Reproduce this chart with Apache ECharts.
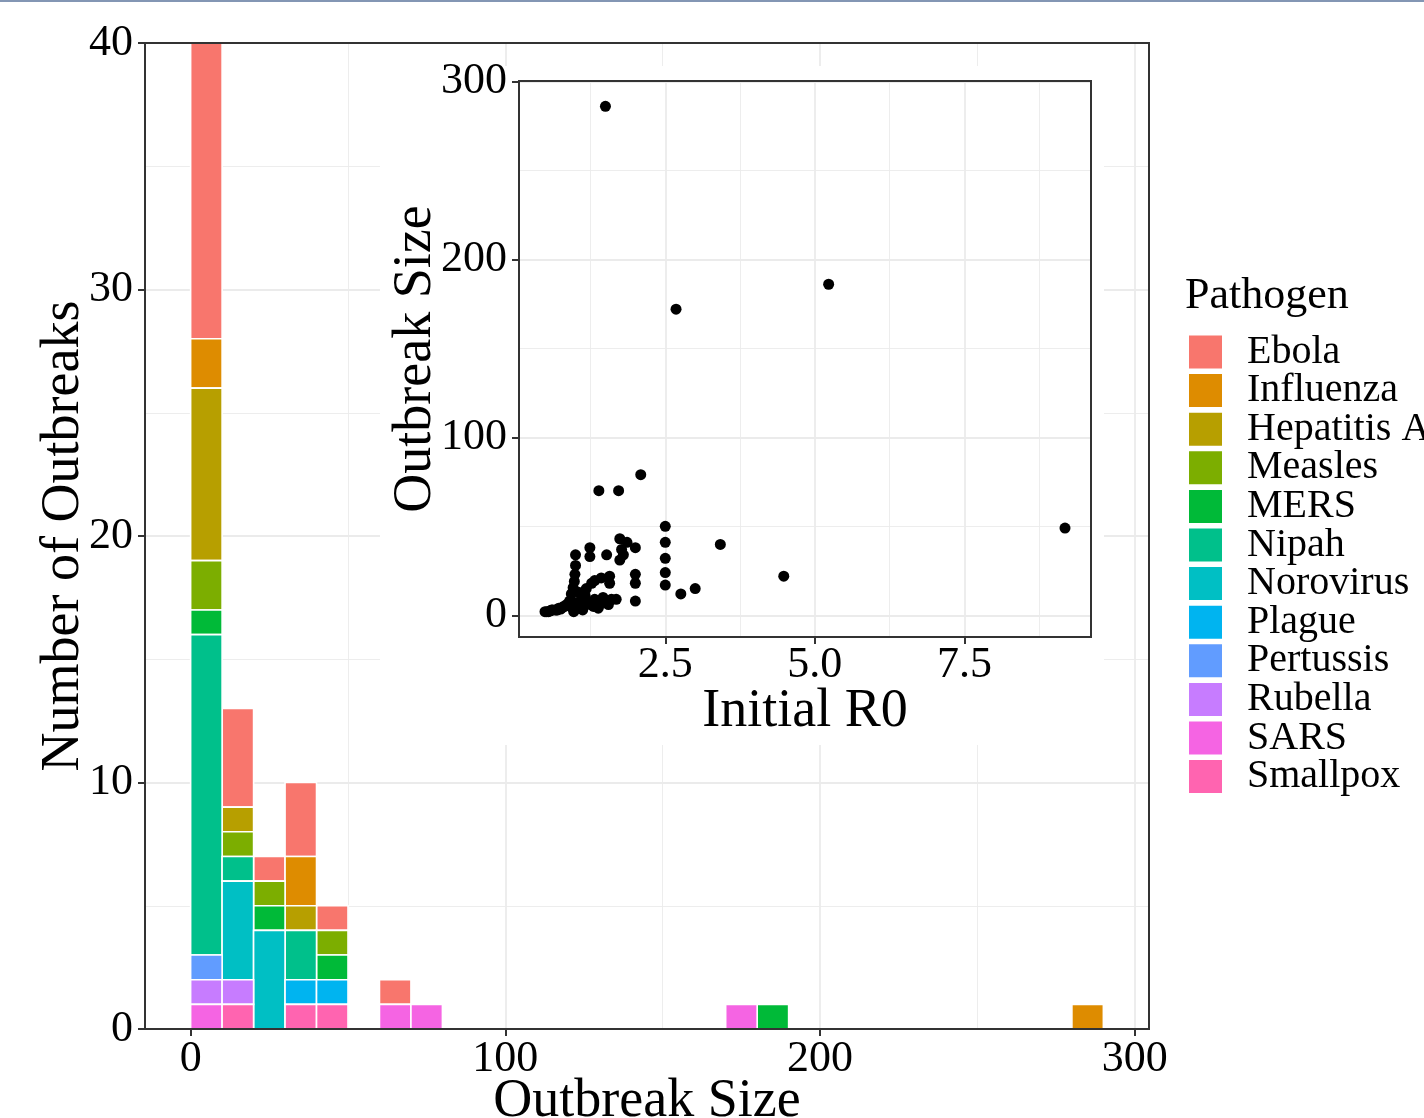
<!DOCTYPE html>
<html>
<head>
<meta charset="utf-8">
<script src="https://cdn.jsdelivr.net/npm/echarts@6/dist/echarts.min.js"></script>
<style>
  html, body { margin: 0; padding: 0; background: #fff; }
  #chart { width: 1424px; height: 1118px; }
</style>
</head>
<body>
<div id="chart"></div>
<script>
// histogram: outbreak size bins (width 10), counts per pathogen
const binStarts = [0, 10, 20, 30, 40, 60, 70, 170, 180, 280]
const binWidth = 10

const pathogens = ['Ebola', 'Influenza', 'Hepatitis A', 'Measles', 'MERS', 'Nipah',
  'Norovirus', 'Plague', 'Pertussis', 'Rubella', 'SARS', 'Smallpox']
const pathogenColors = ['#F8766D', '#DE8C00', '#B79F00', '#7CAE00', '#00BA38', '#00C08B',
  '#00BFC4', '#00B4F0', '#619CFF', '#C77CFF', '#F564E3', '#FF64B0']

const ebola      = [12, 4, 1, 3, 1, 1, 0, 0, 0, 0]
const influenza  = [2, 0, 0, 2, 0, 0, 0, 0, 0, 1]
const hepatitisA = [7, 1, 0, 1, 0, 0, 0, 0, 0, 0]
const measles    = [2, 1, 1, 0, 1, 0, 0, 0, 0, 0]
const mers       = [1, 0, 1, 0, 1, 0, 0, 0, 1, 0]
const nipah      = [13, 1, 0, 2, 0, 0, 0, 0, 0, 0]
const norovirus  = [0, 4, 4, 0, 0, 0, 0, 0, 0, 0]
const plague     = [0, 0, 0, 1, 1, 0, 0, 0, 0, 0]
const pertussis  = [1, 0, 0, 0, 0, 0, 0, 0, 0, 0]
const rubella    = [1, 1, 0, 0, 0, 0, 0, 0, 0, 0]
const sars       = [1, 0, 0, 0, 0, 1, 1, 1, 0, 0]
const smallpox   = [0, 1, 0, 1, 1, 0, 0, 0, 0, 0]
const countsByPathogen = [ebola, influenza, hepatitisA, measles, mers, nipah,
  norovirus, plague, pertussis, rubella, sars, smallpox]

const histXTicks = [0, 100, 200, 300]
const histXMinor = [50, 150, 250]

// inset scatter: initial R0 vs outbreak size
const initialR0 = [
  1.5, 2.68, 5.23, 9.18, 4.48, 3.42, 2.09, 1.39, 1.72, 2.5, 2.5, 2.5, 2.5, 2.5, 2.76, 3.0,
  2.0, 2.0, 2.0, 2.0, 1.74, 1.86, 1.77, 1.8, 1.74, 1.52, 1.24, 1.24, 1.0, 1.0,
  0.99, 0.98, 0.96, 0.93, 0.9, 0.85, 0.77, 0.66, 0.49, 1.0, 1.0, 1.16, 1.18, 1.27,
  1.32, 1.32, 1.3, 1.43, 1.46, 1.57, 1.57, 1.6, 1.4, 1.68, 0.55, 0.6, 0.7, 0.8, 0.95, 1.1, 1.2,
  0.52, 0.58, 0.62, 0.68, 0.72, 0.75, 0.82, 0.88, 0.92, 0.97, 1.02, 1.05, 1.08, 1.12,
  1.25, 1.35, 1.38, 1.5, 1.55, 1.05
]
const outbreakSize = [
  286, 172, 186, 49, 22, 39.8, 79, 70, 70, 50, 41, 32, 24, 17, 12, 15,
  38, 23, 18, 8, 43, 41, 37, 34, 31, 34, 38, 33, 34, 28,
  23, 19, 15.5, 12, 8, 6, 4, 3, 2, 3.5, 7, 11, 15, 18,
  19.5, 9, 5, 21, 10, 22, 18, 9, 6, 9, 2, 3, 3, 5, 4, 5, 7,
  2, 2.5, 3, 3, 4, 3.5, 5, 6, 5, 2, 4, 6, 8, 3,
  6, 7, 4, 8, 6, 13
]
const insetXTicks = [2.5, 5.0, 7.5]
const insetXMinor = [1.25, 3.75, 6.25, 8.75]
const insetYTicks = [0, 100, 200, 300]
const insetYMinor = [50, 150, 250]

// layout (px)
const W = 1424, H = 1118
const mainBox = { left: 145, top: 43, right: 1149, bottom: 1029 }
const insetBox = { left: 519, top: 81, right: 1091, bottom: 637 }
const insetBg = { left: 380, top: 66, right: 1104, bottom: 745 }

const FONT = 'Liberation Serif'
const gridColor = '#ebebeb'
const frameColor = '#333333'

// ggplot style 5% expansion
function expand(arr) {
  const lo = Math.min(...arr), hi = Math.max(...arr)
  const pad = (hi - lo) * 0.05
  return [lo - pad, hi + pad]
}
const histRange = expand([binStarts[0], binStarts[binStarts.length - 1] + binWidth])
const r0Range = expand(initialR0)
const sizeRange = expand(outbreakSize)

// stack: first level ends on top, so build from the last pathogen up
const stackBase = binStarts.map(() => 0)
const segments = pathogens.map(() => [])
for (let p = pathogens.length - 1; p >= 0; p--) {
  countsByPathogen[p].forEach((c, i) => {
    if (c > 0) {
      segments[p].push([binStarts[i], binStarts[i] + binWidth, stackBase[i], stackBase[i] + c])
      stackBase[i] += c
    }
  })
}

function renderBar(params, api) {
  const a = api.coord([api.value(0), api.value(2)])
  const b = api.coord([api.value(1), api.value(3)])
  return {
    type: 'rect',
    shape: { x: a[0], y: b[1], width: b[0] - a[0], height: a[1] - b[1] },
    style: { fill: api.visual('color'), stroke: '#ffffff', lineWidth: 1.6 }
  }
}

function gridOf(box) {
  return {
    left: box.left, top: box.top,
    width: box.right - box.left, height: box.bottom - box.top,
    containLabel: false, outerBoundsMode: 'none'
  }
}

const tickLabel = { color: '#000', fontFamily: FONT, fontSize: 44 }
const nameStyle = { color: '#000', fontFamily: FONT, fontSize: 54 }

function majorAxis(extra) {
  return Object.assign({
    type: 'value',
    axisLine: { show: false, onZero: false },
    axisTick: { show: true, length: 7, lineStyle: { color: frameColor, width: 2 } },
    splitLine: { show: true, lineStyle: { color: gridColor, width: 1.8 } },
    nameLocation: 'middle',
    nameMoveOverlap: false,
    nameTextStyle: nameStyle
  }, extra)
}
function minorAxis(extra, values) {
  return Object.assign({
    type: 'value',
    axisLine: { show: false, onZero: false },
    axisTick: { show: false, customValues: values },
    axisLabel: { show: false, customValues: values },
    splitLine: { show: true, lineStyle: { color: gridColor, width: 0.9 } }
  }, extra)
}

const chart = echarts.init(document.getElementById('chart'))

const option = {
  animation: false,
  backgroundColor: '#fff',
  title: {
    text: 'Pathogen',
    left: 1185,
    top: 274,
    padding: 0,
    textStyle: { color: '#000', fontFamily: FONT, fontSize: 44, fontWeight: 'normal' }
  },
  legend: {
    orient: 'vertical',
    left: 1189,
    top: 332,
    padding: 0,
    itemWidth: 33,
    itemHeight: 33,
    itemGap: -1.4,
    icon: 'rect',
    selectedMode: false,
    data: pathogens,
    textStyle: { color: '#000', fontFamily: FONT, fontSize: 40, padding: [0, 0, 0, 20] }
  },
  grid: [gridOf(mainBox), gridOf(insetBox)],
  xAxis: [
    majorAxis({
      gridIndex: 0, min: histRange[0], max: histRange[1], z: 0,
      name: 'Outbreak Size', nameGap: 46,
      axisTick: { show: true, length: 7, customValues: histXTicks, lineStyle: { color: frameColor, width: 2 } },
      axisLabel: Object.assign({ customValues: histXTicks, margin: 8 }, tickLabel)
    }),
    minorAxis({ gridIndex: 0, min: histRange[0], max: histRange[1], z: 0 }, histXMinor),
    majorAxis({
      gridIndex: 1, min: r0Range[0], max: r0Range[1], z: 3,
      name: 'Initial R0', nameGap: 48,
      axisTick: { show: true, length: 7, customValues: insetXTicks, lineStyle: { color: frameColor, width: 2 } },
      axisLabel: Object.assign({ customValues: insetXTicks, margin: 6, formatter: v => v.toFixed(1) }, tickLabel)
    }),
    minorAxis({ gridIndex: 1, min: r0Range[0], max: r0Range[1], z: 3 }, insetXMinor)
  ],
  yAxis: [
    majorAxis({
      gridIndex: 0, min: 0, max: 40, interval: 10, z: 0,
      name: 'Number of Outbreaks', nameGap: 54, nameRotate: 90,
      axisLabel: Object.assign({ margin: 12 }, tickLabel),
      minorTick: { show: false, splitNumber: 2 },
      minorSplitLine: { show: true, lineStyle: { color: gridColor, width: 0.9 } }
    }),
    majorAxis({
      gridIndex: 1, min: sizeRange[0], max: sizeRange[1], z: 3,
      name: 'Outbreak Size', nameGap: 76, nameRotate: 90,
      axisTick: { show: true, length: 7, customValues: insetYTicks, lineStyle: { color: frameColor, width: 2 } },
      axisLabel: Object.assign({ customValues: insetYTicks, margin: 12 }, tickLabel)
    }),
    minorAxis({ gridIndex: 1, min: sizeRange[0], max: sizeRange[1], z: 3 }, insetYMinor)
  ],
  graphic: [
    { type: 'rect', z: 1, silent: true,
      shape: { x: insetBg.left, y: insetBg.top, width: insetBg.right - insetBg.left, height: insetBg.bottom - insetBg.top },
      style: { fill: '#ffffff' } },
    { type: 'rect', z: 10, silent: true,
      shape: { x: mainBox.left, y: mainBox.top, width: mainBox.right - mainBox.left, height: mainBox.bottom - mainBox.top },
      style: { fill: 'none', stroke: frameColor, lineWidth: 2 } },
    { type: 'rect', z: 10, silent: true,
      shape: { x: insetBox.left, y: insetBox.top, width: insetBox.right - insetBox.left, height: insetBox.bottom - insetBox.top },
      style: { fill: 'none', stroke: frameColor, lineWidth: 2 } },
    { type: 'rect', z: 10, silent: true,
      shape: { x: 0, y: 0, width: W, height: 2 },
      style: { fill: '#8396b4' } }
  ],
  series: pathogens.map((name, p) => ({
    name: name,
    type: 'custom',
    xAxisIndex: 0,
    yAxisIndex: 0,
    z: 2,
    color: pathogenColors[p],
    itemStyle: { color: pathogenColors[p] },
    renderItem: renderBar,
    encode: { x: [0, 1], y: [2, 3] },
    data: segments[p]
  })).concat([{
    name: 'R0',
    type: 'scatter',
    xAxisIndex: 2,
    yAxisIndex: 1,
    z: 5,
    symbolSize: 11,
    itemStyle: { color: '#000', opacity: 1 },
    data: initialR0.map((r, i) => [r, outbreakSize[i]])
  }])
}

chart.setOption(option)
</script>
</body>
</html>
